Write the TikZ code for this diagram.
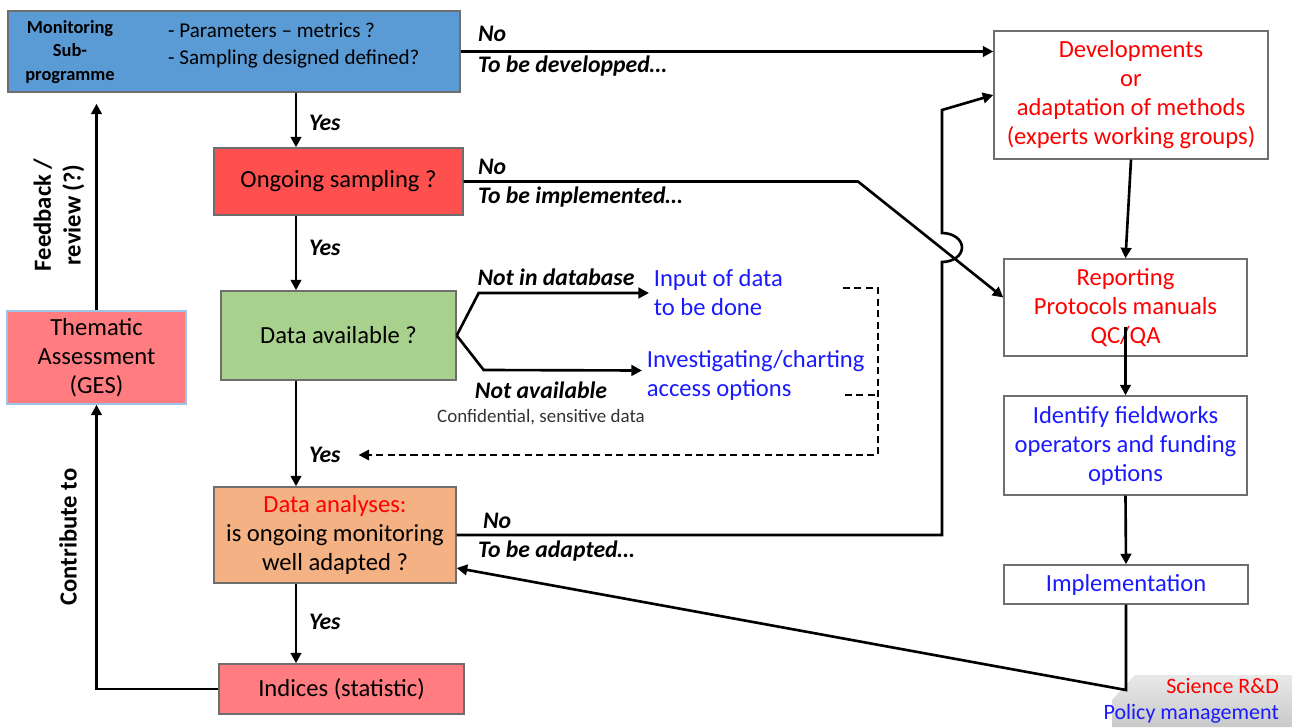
\documentclass[tikz,border=0pt]{standalone}
\usepackage{fontspec}
\setmainfont{Carlito}
\usetikzlibrary{arrows.meta}

\definecolor{monblue}{HTML}{5B9BD5}
\definecolor{ongred}{HTML}{FF5050}
\definecolor{davgreen}{HTML}{A9D18E}
\definecolor{anaorange}{HTML}{F4B183}
\definecolor{indpink}{HTML}{FF7C80}
\definecolor{txtred}{HTML}{FF0000}
\definecolor{txtblue}{HTML}{1A1AFF}
\definecolor{boxgray}{HTML}{6E6E6E}

\tikzset{
  box/.style = {draw = boxgray, line width = 0.8pt, align = center, inner sep = 2pt},
  yn/.style = {font = \fontsize{13.5}{16}\selectfont\bfseries\itshape, anchor = west, inner sep = 1pt},
  bluetxt/.style = {text = txtblue, align = left, anchor = west, inner sep = 2pt},
  sidelbl/.style = {font = \fontsize{14}{17}\selectfont\bfseries, rotate = 90, align = center}
}

\begin{document}
\begin{tikzpicture}[line width = 1.5pt, >={Triangle[length = 6pt, width = 6pt]},
    font = \fontsize{14}{16.5}\selectfont]
        \useasboundingbox (0,0) rectangle (25.84,14.54);

        %Monitoring sub-programme
        \node [box, fill = monblue, minimum width = 9.04cm, minimum height = 1.62cm]
        (mon)at(4.68,13.51){};
        \node [font = \fontsize{10.5}{13.4}\selectfont\bfseries, align = center]
        (monl)at(1.4,13.5){Monitoring\\Sub-\\programme};
        \node [font = \fontsize{12}{15.3}\selectfont, align = left, anchor = west]
        (monr)at(3.22,13.62){- Parameters -- metrics ?\\- Sampling designed defined?};

        %Ongoing sampling
        \node [box, fill = ongred, minimum width = 4.98cm, minimum height = 1.34cm]
        (ong)at(6.77,10.91){Ongoing sampling ?};
        %Data available
        \node [box, fill = davgreen, minimum width = 4.7cm, minimum height = 1.78cm]
        (dav)at(6.77,7.83){Data available ?};
        %Data analyses
        \node [box, fill = anaorange, minimum width = 4.84cm, minimum height = 1.92cm]
        (ana)at(6.70,3.84){\textcolor{txtred}{Data analyses:}\\is ongoing monitoring\\well adapted ?};
        %Indices
        \node [box, fill = indpink, minimum width = 4.9cm, minimum height = 1.0cm]
        (ind)at(6.83,0.76){Indices (statistic)};
        %Thematic assessment
        \node [box, draw = monblue!60, fill = indpink, minimum width = 3.58cm, minimum height = 1.86cm]
        (the)at(1.93,7.39){Thematic\\Assessment\\(GES)};

        %Right column
        \node [box, text = txtred, minimum width = 5.48cm, minimum height = 2.56cm]
        (dev)at(22.62,12.64){Developments\\or\\adaptation of methods\\(experts working groups)};
        \node [box, text = txtred, minimum width = 4.86cm, minimum height = 1.94cm]
        (rep)at(22.51,8.39){Reporting\\Protocols manuals\\QC/QA};
        \node [box, text = txtblue, minimum width = 4.86cm, minimum height = 1.98cm]
        (idf)at(22.51,5.63){Identify fieldworks\\operators and funding\\options};
        \node [box, text = txtblue, minimum width = 4.88cm, minimum height = 0.78cm]
        (imp)at(22.52,2.85){Implementation};

        %Science / policy corner
        \shade [top color = gray!18, bottom color = gray!42, line width = 0pt]
        (22.24,0) -- (22.24,0.54) -- (22.70,1.04) -- (25.84,1.04) -- (25.84,0) -- cycle;
        \node [font = \fontsize{12.5}{14.7}\selectfont, align = right, anchor = east]
        (sci)at(25.72,0.52){\textcolor{txtred}{Science R\&D}\\\textcolor{txtblue}{Policy management}};

        %Outcomes of data check
        \node [bluetxt] (inp)at(12.98,8.68){Input of data\\to be done};
        \node [bluetxt] (inv)at(12.84,7.03){Investigating/charting\\access options};

        %Labels
        \node [yn] (no1)at(9.5,13.86){No};
        \node [yn] (tbd)at(9.5,13.22){To be developped\dots};
        \node [yn] (no2)at(9.5,11.2){No};
        \node [yn] (tbi)at(9.5,10.6){To be implemented\dots};
        \node [yn] (no3)at(9.6,4.12){No};
        \node [yn] (tba)at(9.5,3.52){To be adapted\dots};
        \node [yn] (yes1)at(6.12,12.08){Yes};
        \node [yn] (yes2)at(6.12,9.58){Yes};
        \node [yn] (yes3)at(6.12,5.44){Yes};
        \node [yn] (yes4)at(6.12,2.1){Yes};
        \node [yn, anchor = center] (nid)at(11.12,9.0){Not in database};
        \node [yn, anchor = center] (nav)at(10.82,6.74){Not available};
        \node [font = \fontsize{10.8}{12}\selectfont, text = black!80] (conf)at(10.82,6.2){Confidential, sensitive data};
        \node [sidelbl] (fbk)at(1.18,10.24){Feedback /\\review (?)};
        \node [sidelbl] (ctb)at(1.36,3.8){Contribute to};

        %Helper points
        \coordinate (spine) at (5.92,0);
        \coordinate (kink) at (17.16,10.91);
        \coordinate (hopa) at (18.84,9.30);
        \coordinate (hopb) at (18.84,12.34);
        \coordinate (tail) at (22.52,0.74);
        \coordinate (dtop) at (16.86,8.78);
        \coordinate (dmid) at (16.9,6.64);
        \coordinate (dcor) at (17.56,5.44);

        %Main flow
        \draw [->](mon.south -| spine)--(ong.north -| spine);
        \draw [->](ong.south -| spine)--(dav.north -| spine);
        \draw [->](dav.south -| spine)--(ana.north -| spine);
        \draw [->](ana.south -| spine)--(ind.north -| spine);

        %No branches
        \draw [->](mon.east)--(mon.east -| dev.west);
        \draw [->](ong.east)--(ong.east -| kink)--([yshift = 0.2cm]rep.west);
        \draw [->](ana.east)--(ana.east -| hopa)--(hopa)
            arc [start angle = -90, end angle = 90, x radius = 0.4, y radius = 0.29]
            --(hopb)--(dev.west);

        %Data check
        \draw [->](dav.east)--++(0.44,0.85)--(inp.west);
        \draw [->](dav.east)--++(0.54,-0.69)--([yshift = 0.1cm]inv.west);
        \draw [dashed, dash pattern = on 4pt off 2.5pt, line width = 1.1pt, ->]
            (dtop)--(dtop -| dcor)--(dcor)--([xshift = 0.3cm]yes3.east);
        \draw [dashed, dash pattern = on 4pt off 2.5pt, line width = 1.1pt]
            (dmid)--(dmid -| dcor);

        %Right column
        \draw [->](dev.south)--(rep.north);
        \draw [->]([yshift = 0.6cm]rep.south)--(idf.north);
        \draw [->](idf.south)--(imp.north);
        \draw [->](imp.south)--(tail)--([yshift = -0.66cm]ana.east);

        %Left loop
        \draw [->](ind.west)--(ind.west -| the.south)--(the.south);
        \draw [->, shorten > = 0.22cm](the.north)--(the.north |- mon.south);

    \end{tikzpicture}
\end{document}
